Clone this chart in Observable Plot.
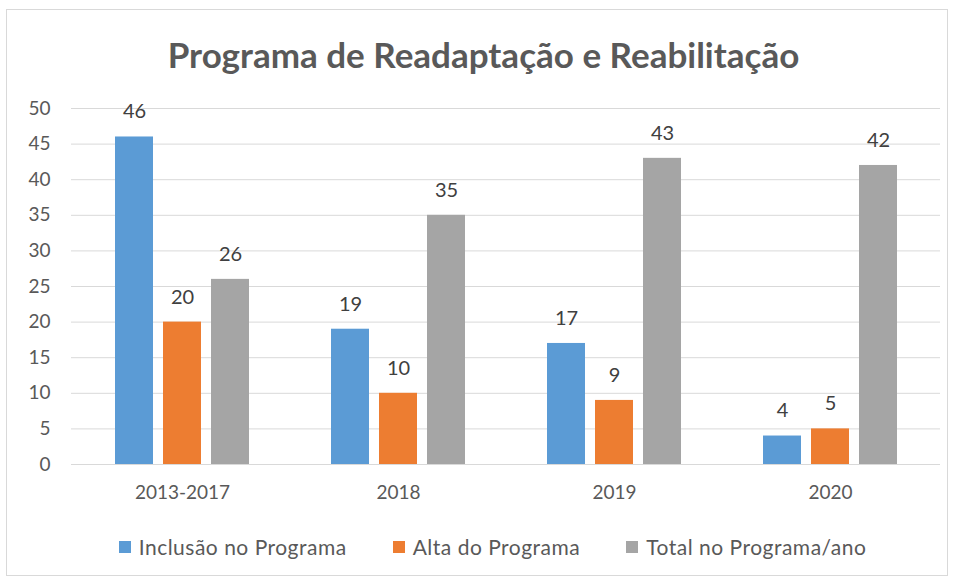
<!DOCTYPE html>
<html>
<head>
<meta charset="utf-8">
<script src="https://cdn.jsdelivr.net/npm/d3@7"></script>
<script src="https://cdn.jsdelivr.net/npm/@observablehq/plot@0.6"></script>
<style>
  html, body { margin: 0; padding: 0; background: #fff; }
  #wrap { position: relative; width: 955px; height: 579px; overflow: hidden; font-family: Lato, "Open Sans", sans-serif; }
  #frame { position: absolute; left: 6px; top: 9px; width: 942px; height: 567px; border: 1px solid #d9d9d9; box-sizing: border-box; }
  #title { position: absolute; left: 6px; width: 955px; top: 33px; text-align: center; font-size: 35px; font-weight: bold; color: #595959; }
  #chart { position: absolute; left: 0; top: 0; }
  #legend { position: absolute; top: 534px; left: 15px; width: 955px; display: flex; justify-content: center; gap: 46px; font-size: 21px; letter-spacing: 0.5px; color: #595959; }
  .item { display: flex; align-items: center; }
  .sw { width: 12px; height: 12px; margin-right: 8px; }
</style>
</head>
<body>
<div id="wrap">
  <div id="frame"></div>
  <div id="chart"></div>
  <div id="title">Programa de Readaptação e Reabilitação</div>
  <div id="legend"></div>
</div>
<script>
const categories = ["2013-2017", "2018", "2019", "2020"];
const seriesNames = ["Inclusão no Programa", "Alta do Programa", "Total no Programa/ano"];
const inclusao = [46, 19, 17, 4];
const alta = [20, 10, 9, 5];
const total = [26, 35, 43, 42];
const colors = ["#5B9BD5", "#ED7D31", "#A5A5A5"];
const yTicks = [0, 5, 10, 15, 20, 25, 30, 35, 40, 45, 50];

const seriesValues = [inclusao, alta, total];
const offsets = [-48, 0, 48];

const marks = [
  Plot.ruleY(yTicks, {stroke: "#d9d9d9", strokeWidth: 1})
];
seriesValues.forEach((vals, si) => {
  const rows = categories.map((c, i) => ({cat: c, value: vals[i]}));
  marks.push(Plot.barY(rows, {x: "cat", y: "value", fill: colors[si], dx: offsets[si]}));
  marks.push(Plot.text(rows, {x: "cat", y: "value", text: d => String(d.value), dx: offsets[si], dy: -25,
    fill: "#404040", fontSize: 20, lineAnchor: "middle"}));
});

const chart = Plot.plot({
  width: 955,
  height: 520,
  marginTop: 108,
  marginBottom: 56,
  marginLeft: 71,
  marginRight: 15,
  style: {fontFamily: "Lato, 'Open Sans', sans-serif", background: "transparent"},
  x: {domain: categories, paddingInner: 0.8246, paddingOuter: 0.417, label: null},
  y: {domain: [0, 50], label: null},
  marks: [
    ...marks,
    Plot.axisX({tickSize: 0, tickPadding: 21, fontSize: 19, fill: "#595959", label: null}),
    Plot.axisY({ticks: yTicks, tickSize: 0, tickPadding: 21, fontSize: 19, fill: "#595959", label: null})
  ]
});
document.getElementById("chart").appendChild(chart);

const legend = document.getElementById("legend");
seriesNames.forEach((n, i) => {
  const it = document.createElement("div");
  it.className = "item";
  const sw = document.createElement("div");
  sw.className = "sw";
  sw.style.background = colors[i];
  const tx = document.createElement("span");
  tx.textContent = n;
  it.appendChild(sw); it.appendChild(tx);
  legend.appendChild(it);
});
</script>
</body>
</html>
